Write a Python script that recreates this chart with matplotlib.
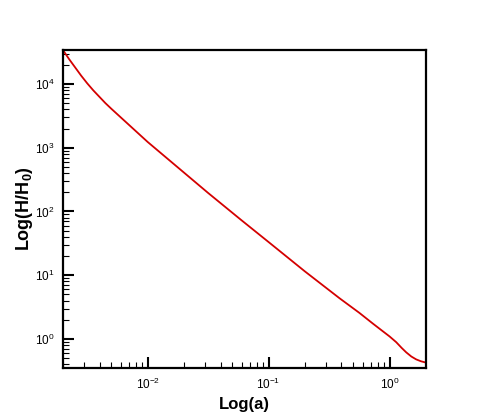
import numpy as np
import matplotlib
matplotlib.use('Agg')
import matplotlib.pyplot as plt
from matplotlib.ticker import LogLocator, NullFormatter

# values (log10 a, log10 H/H0)
log_a = [-2.70, -2.65, -2.60, -2.55, -2.50, -2.45, -2.40, -2.35, -2.30, -2.15,
         -2.00, -1.80, -1.50, -1.226, -1.00, -0.70, -0.413, -0.25, -0.137,
         -0.055, 0.00, 0.055, 0.10, 0.138, 0.18, 0.22, 0.26, 0.30]
log_h = [4.53, 4.39, 4.26, 4.13, 4.01, 3.90, 3.80, 3.70, 3.61, 3.35,
         3.09, 2.77, 2.29, 1.865, 1.52, 1.06, 0.638, 0.41, 0.24,
         0.12, 0.04, -0.05, -0.14, -0.21, -0.275, -0.32, -0.35, -0.37]

a = 10 ** np.array(log_a)
h = 10 ** np.array(log_h)

plt.rcParams['font.family'] = ['Liberation Sans', 'DejaVu Sans']
plt.rcParams['mathtext.fontset'] = 'custom'
plt.rcParams['mathtext.rm'] = 'Liberation Sans'
plt.rcParams['mathtext.it'] = 'Liberation Sans:italic'
plt.rcParams['mathtext.bf'] = 'Liberation Sans:bold'

fig = plt.figure(figsize=(4.85, 4.15), dpi=100)
ax = fig.add_axes([0.130, 0.1133, 0.748, 0.7662])

ax.plot(a, h, color='#d40000', lw=1.3)
ax.set_xscale('log')
ax.set_yscale('log')
ax.set_xlim(10 ** -2.70, 10 ** 0.30)
ax.set_ylim(10 ** -0.455, 10 ** 4.533)

ax.xaxis.set_major_locator(LogLocator(base=10, numticks=10))
ax.xaxis.set_minor_locator(LogLocator(base=10, subs=np.arange(2, 10), numticks=20))
ax.yaxis.set_major_locator(LogLocator(base=10, numticks=10))
ax.yaxis.set_minor_locator(LogLocator(base=10, subs=np.arange(2, 10), numticks=20))
ax.xaxis.set_minor_formatter(NullFormatter())
ax.yaxis.set_minor_formatter(NullFormatter())

ax.tick_params(which='both', direction='in', top=False, right=False,
               labelsize=8.5, color='black')
ax.tick_params(which='major', length=8, width=1.5, pad=6)
ax.tick_params(which='minor', length=4.5, width=0.8)
for s in ax.spines.values():
    s.set_linewidth(1.6)

ax.set_xlabel('Log(a)', fontsize=12, fontweight='bold', labelpad=4)
ax.set_ylabel(r'$\mathbf{Log(H/H_0)}$', fontsize=13, labelpad=0)

fig.savefig('out.png', dpi=100)
